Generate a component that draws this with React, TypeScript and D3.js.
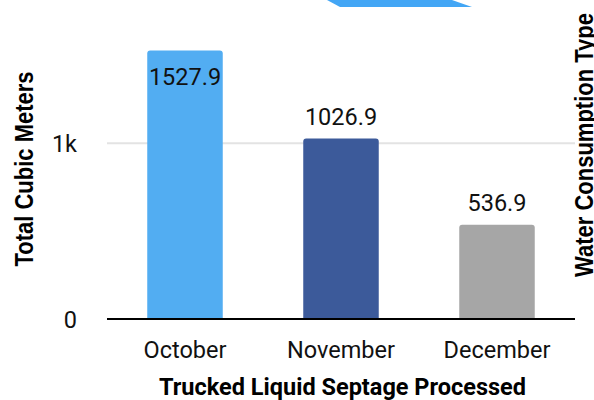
import React from "react";
import * as d3 from "d3";

const categories = ["October", "November", "December"];
const values = [1527.9, 1026.9, 536.9];
const barColors = ["#52adf2", "#3c5a9a", "#a6a6a6"];
const yTicks = [0, 1000];
const yTickLabels = ["0", "1k"];
const xTitle = "Trucked Liquid Septage Processed";
const yTitle = "Total Cubic Meters";
const rightTitle = "Water Consumption Type";

const W = 594;
const H = 400;
const plotLeft = 107;
const plotRight = 575;
const baseY = 319;
const plotTop = 40;

function roundedTopBar(x: number, y: number, w: number, h: number, r: number) {
  const p = d3.path();
  p.moveTo(x, y + h);
  p.lineTo(x, y + r);
  p.quadraticCurveTo(x, y, x + r, y);
  p.lineTo(x + w - r, y);
  p.quadraticCurveTo(x + w, y, x + w, y + r);
  p.lineTo(x + w, y + h);
  p.closePath();
  return p.toString();
}

export default function App() {
  const x = d3
    .scaleBand<string>()
    .domain(categories)
    .range([plotLeft, plotRight])
    .paddingInner(0.516)
    .paddingOuter(0.258);
  const y = d3.scaleLinear().domain([0, 1000]).range([baseY, 143.3]);

  const labelFont = "Roboto, 'Noto Sans', sans-serif";
  const titleFont = "'Liberation Sans', Arial, sans-serif";

  const topShape = d3.line()([
    [327, 0],
    [452, 0],
    [472, 7],
    [340, 7],
  ]) + "Z";

  return (
    <svg
      width={W}
      height={H}
      style={{ position: "fixed", left: 0, top: 0, background: "#fff" }}
    >
      <rect x={0} y={0} width={W} height={H} fill="#fff" />
      <path d={topShape} fill="#43a6f5" />

      {/* gridlines */}
      {yTicks
        .filter((t) => t !== 0)
        .map((t) => (
          <line
            key={"g" + t}
            x1={plotLeft}
            x2={plotRight}
            y1={y(t)}
            y2={y(t)}
            stroke="#e3e3e3"
            strokeWidth={2}
          />
        ))}

      {/* bars */}
      {categories.map((c, i) => {
        const bx = x(c)!;
        const by = y(values[i]);
        return (
          <path
            key={"b" + c}
            d={roundedTopBar(bx, by, x.bandwidth(), baseY - by, 3)}
            fill={barColors[i]}
          />
        );
      })}

      {/* baseline */}
      <line
        x1={plotLeft}
        x2={plotRight}
        y1={baseY}
        y2={baseY}
        stroke="#000"
        strokeWidth={2}
      />

      {/* value labels */}
      {categories.map((c, i) => {
        const cx = x(c)! + x.bandwidth() / 2;
        const by = y(values[i]);
        const outside = by - 14 - 17 >= plotTop;
        const ty = outside ? by - 14 : by + 34;
        return (
          <text
            key={"v" + c}
            x={cx}
            y={ty}
            textAnchor="middle"
            fontFamily={labelFont}
            fontSize={23.5}
            fill="#111"
          >
            {values[i].toFixed(1)}
          </text>
        );
      })}

      {/* y tick labels */}
      {yTicks.map((t, i) => (
        <text
          key={"t" + t}
          x={77}
          y={y(t) + 8.5}
          textAnchor="end"
          fontFamily={labelFont}
          fontSize={23.5}
          fill="#111"
        >
          {yTickLabels[i]}
        </text>
      ))}

      {/* x tick labels */}
      {categories.map((c) => (
        <text
          key={"x" + c}
          x={x(c)! + x.bandwidth() / 2}
          y={358.3}
          textAnchor="middle"
          fontFamily={labelFont}
          fontSize={23.5}
          fill="#111"
        >
          {c}
        </text>
      ))}

      {/* x title */}
      <text
        x={342.5}
        y={395}
        textAnchor="middle"
        fontFamily={labelFont}
        fontWeight="bold"
        fontSize={23.5}
        fill="#000"
      >
        {xTitle}
      </text>

      {/* y title */}
      <text
        transform={`translate(33,169) scale(1.2,1) rotate(-90)`}
        textAnchor="middle"
        fontFamily={titleFont}
        fontWeight="bold"
        fontSize={22}
        fill="#000"
      >
        {yTitle}
      </text>

      {/* right title */}
      <text
        transform={`translate(593,145) scale(1.2,1) rotate(-90)`}
        textAnchor="middle"
        fontFamily={titleFont}
        fontWeight="bold"
        fontSize={22}
        fill="#000"
      >
        {rightTitle}
      </text>
    </svg>
  );
}
